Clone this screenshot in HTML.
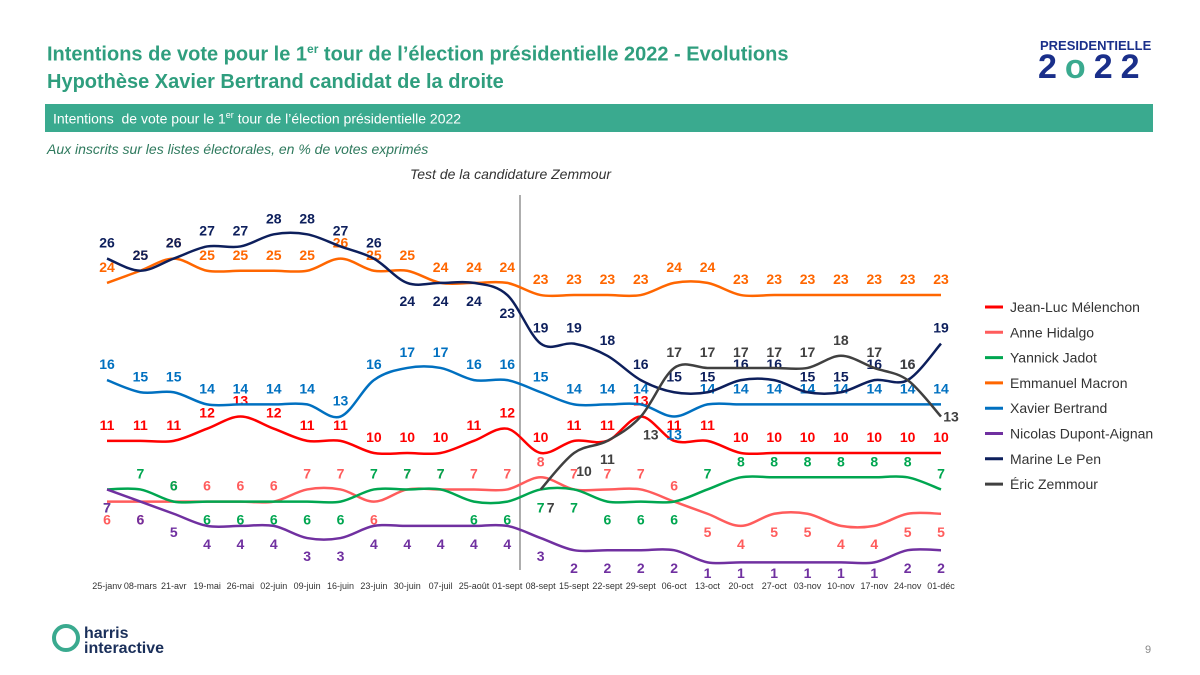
<!DOCTYPE html>
<html><head><meta charset="utf-8"><style>
body{margin:0;width:1200px;height:675px;background:#fff;font-family:"Liberation Sans",sans-serif;position:relative;overflow:hidden}
.t{position:absolute;white-space:nowrap}
</style></head><body>
<div class="t" style="left:47px;top:36px;color:#2f9e7e;font-weight:bold;font-size:20px;line-height:27px">Intentions de vote pour le 1<sup style="font-size:12px">er</sup> tour de l’élection présidentielle 2022 - Evolutions<br>Hypothèse Xavier Bertrand candidat de la droite</div>
<div class="t" style="left:1040px;top:38px;color:#1a2f8a;font-weight:bold;font-size:13px;">PRESIDENTIELLE</div>
<div class="t" style="left:1038px;top:48px;color:#1a2f8a;font-weight:bold;font-size:34px;letter-spacing:8px">2<span style="color:#3aaa8f">o</span>22</div>
<div style="position:absolute;left:45px;top:104px;width:1108px;height:28px;background:#3aaa8f"></div>
<div class="t" style="left:53px;top:110px;color:#fff;font-size:14px">Intentions &nbsp;de vote pour le 1<sup style="font-size:9px">er</sup> tour de l’élection présidentielle 2022</div>
<div class="t" style="left:47px;top:141px;color:#2f7a5e;font-style:italic;font-size:14px">Aux inscrits sur les listes électorales, en % de votes exprimés</div>
<div class="t" style="left:410px;top:166px;color:#333;font-style:italic;font-size:14px">Test de la candidature Zemmour</div>
<svg id="chart" width="1200" height="675" style="position:absolute;left:0;top:0"></svg>
<div class="t" style="left:52px;top:626px;font-weight:bold;font-size:16px;line-height:15px;color:#1a2f5a"><span style="display:inline-block;width:20px;height:20px;border:4px solid #3aaa8f;border-radius:50%;vertical-align:top;margin-right:4px;position:relative;top:-2px"></span><span style="display:inline-block">harris<br>interactive</span></div>
<div class="t" style="left:1145px;top:644px;color:#888;font-size:11px">9</div>
<script>
const categories=["25-janv","08-mars","21-avr","19-mai","26-mai","02-juin","09-juin","16-juin","23-juin","30-juin","07-juil","25-août","01-sept","08-sept","15-sept","22-sept","29-sept","06-oct","13-oct","20-oct","27-oct","03-nov","10-nov","17-nov","24-nov","01-déc"];
const melenchon=[11,11,11,12,13,12,11,11,10,10,10,11,12,10,11,11,13,11,11,10,10,10,10,10,10,10];
const hidalgo=[6,6,6,6,6,6,7,7,6,7,7,7,7,8,7,7,7,6,5,4,5,5,4,4,5,5];
const jadot=[7,7,6,6,6,6,6,6,7,7,7,6,6,7,7,6,6,6,7,8,8,8,8,8,8,7];
const macron=[24,25,26,25,25,25,25,26,25,25,24,24,24,23,23,23,23,24,24,23,23,23,23,23,23,23];
const bertrand=[16,15,15,14,14,14,14,13,16,17,17,16,16,15,14,14,14,13,14,14,14,14,14,14,14,14];
const dupont=[7,6,5,4,4,4,3,3,4,4,4,4,4,3,2,2,2,2,1,1,1,1,1,1,2,2];
const lepen=[26,25,26,27,27,28,28,27,26,24,24,24,23,19,19,18,16,15,15,16,16,15,15,16,16,19];
const zemmour=[null,null,null,null,null,null,null,null,null,null,null,null,null,7,10,11,13,17,17,17,17,17,18,17,16,13];
const seriesNames=["Jean-Luc Mélenchon","Anne Hidalgo","Yannick Jadot","Emmanuel Macron","Xavier Bertrand","Nicolas Dupont-Aignan","Marine Le Pen","Éric Zemmour"];
const seriesData=[melenchon,hidalgo,jadot,macron,bertrand,dupont,lepen,zemmour];
const colors=["#ff0000","#ff5c5c","#00a650","#ff6600","#0070c0","#7030a0","#0d1f5c","#404040"];
const keys=["melenchon","hidalgo","jadot","macron","bertrand","dupont-aignan","le-pen","zemmour"];
const below=[[],[0,1,8,18,19,20,21,22,23,24,25],[0,3,4,5,6,7,11,12,13,14,15,16,17],[],[17],[0,1,2,3,4,5,6,7,8,9,10,11,12,13,14,15,16,17,18,19,20,21,22,23,24,25],[9,10,11,12],[13,14,15,16]];
const rightShift=[[],[],[],[],[],[],[],[13,14,16,25]];
const svg=document.getElementById('chart');const NS="http://www.w3.org/2000/svg";
const x=i=>107+i*(941-107)/(categories.length-1);
const y=v=>453-(v-10)*12.15;
function mk(t,a){const e=document.createElementNS(NS,t);for(const k in a)e.setAttribute(k,a[k]);svg.appendChild(e);return e;}
const sep=mk('line',{x1:520,x2:520,y1:195,y2:570,stroke:'#777','stroke-width':1.2});


categories.forEach((c,i)=>{const t=mk('text',{x:x(i),y:589,'font-size':9,'text-anchor':'middle',fill:'#333','font-family':'Liberation Sans'});t.textContent=c;

});
seriesData.forEach((d,s)=>{
 const pts=[];d.forEach((v,i)=>{if(v!==null)pts.push([x(i),y(v),v,i]);});
 let p=`M${pts[0][0]},${pts[0][1]}`;
 for(let i=0;i<pts.length-1;i++){const p0=pts[Math.max(0,i-1)],p1=pts[i],p2=pts[i+1],p3=pts[Math.min(pts.length-1,i+2)];
  p+=` C${p1[0]+(p2[0]-p0[0])/6},${p1[1]+(p2[1]-p0[1])/6} ${p2[0]-(p3[0]-p1[0])/6},${p2[1]-(p3[1]-p1[1])/6} ${p2[0]},${p2[1]}`;}
 const path=mk('path',{d:p,fill:'none',stroke:colors[s],'stroke-width':2.5});
 
 
 pts.forEach(q=>{const b=below[s].includes(q[3]);const r=rightShift[s].includes(q[3]);
 let ty=q[1]+(r&&!b?5:(b?23:-11));if(ty>578)ty=578;
 const t=mk('text',{x:q[0]+(r?10:0),y:ty,'font-size':14,'font-weight':'bold','text-anchor':'middle',fill:colors[s],'font-family':'Liberation Sans'});t.textContent=q[2];
 
 });
 const ly=307+s*25.3;
 const ll=mk('line',{x1:985,x2:1003,y1:ly,y2:ly,stroke:colors[s],'stroke-width':3});
 
 
 const lt=mk('text',{x:1010,y:ly+5,'font-size':14,fill:'#333','font-family':'Liberation Sans'});lt.textContent=seriesNames[s];
 
 
});
</script>
</body></html>
